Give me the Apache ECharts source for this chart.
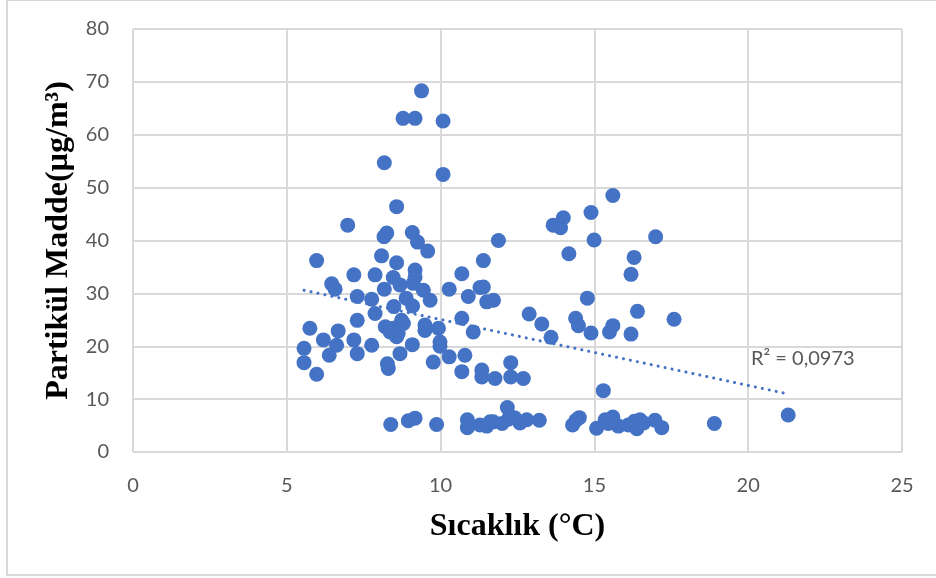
<!DOCTYPE html>
<html>
<head>
<meta charset="utf-8">
<script src="https://cdn.jsdelivr.net/npm/echarts@6/dist/echarts.min.js"></script>
<style>
  html, body { margin: 0; padding: 0; background: #fff; }
  #chart { width: 936px; height: 578px; }
</style>
</head>
<body>
<div id="chart"></div>
<script>
// sicaklik (x) ve partikul madde (y) - olcum ciftleri
var sicaklik = [
    9.38, 8.78, 9.17, 10.08, 8.17, 10.08, 8.57, 6.98, 8.25, 8.16,
    9.08, 9.25, 9.58, 5.97, 8.08, 8.57, 9.17, 7.18, 7.87, 8.46,
    9.17, 6.46, 6.57, 8.68, 9.11, 9.44, 8.17, 7.29, 7.76, 9.66,
    8.88, 9.09, 8.48, 7.87, 7.29, 8.73, 8.46, 8.20, 8.62, 9.49,
    9.49, 9.93, 5.75, 6.19, 6.67, 7.18, 6.62, 7.76, 9.08, 9.98,
    9.98, 5.56, 6.38, 7.29, 8.68, 10.28, 10.79, 5.56, 8.27, 8.30,
    9.76, 10.69, 5.97, 11.34, 11.34, 11.77, 10.69, 10.69, 10.28, 10.90,
    11.28, 11.39, 11.50, 11.72, 11.88, 11.06, 8.36, 8.57, 8.79, 8.38,
    8.95, 9.17, 9.87, 10.87, 10.87, 11.50, 11.71, 15.60, 14.89, 13.99,
    13.66, 13.90, 14.99, 16.99, 14.17, 16.29, 16.19, 11.39, 14.77, 12.88,
    13.29, 13.59, 14.39, 14.48, 14.89, 15.60, 15.49, 16.40, 16.19, 17.59,
    12.28, 12.28, 12.69, 15.29, 12.17, 11.61, 12.00, 12.58, 12.80, 13.21,
    14.29, 14.51, 15.07, 15.35, 15.60, 15.78, 16.10, 16.38, 16.48, 16.97,
    17.19, 11.28, 18.90, 21.30, 12.40, 14.40, 15.45, 16.30, 16.60, 12.20
];
var partikul = [
    68.3, 63.1, 63.1, 62.6, 54.7, 52.5, 46.4, 42.9, 41.4, 40.7,
    41.5, 39.7, 38.0, 36.2, 37.1, 35.8, 34.4, 33.5, 33.5, 33.0,
    33.1, 31.8, 30.8, 31.6, 31.9, 30.6, 30.8, 29.4, 28.9, 28.7,
    29.1, 27.6, 27.5, 26.2, 24.9, 24.9, 23.4, 23.7, 22.4, 24.0,
    23.0, 23.4, 23.4, 21.2, 22.9, 21.2, 20.2, 20.2, 20.3, 20.8,
    20.0, 19.6, 18.3, 18.6, 18.6, 18.0, 18.3, 16.9, 16.7, 15.8,
    17.0, 15.2, 14.7, 15.5, 14.2, 13.9, 25.3, 33.7, 30.8, 29.4,
    31.1, 36.2, 28.4, 28.7, 40.0, 22.7, 22.7, 21.8, 24.3, 5.2,
    5.9, 6.4, 5.2, 6.1, 4.6, 4.9, 5.7, 48.5, 45.3, 44.3,
    42.9, 42.4, 40.1, 40.7, 37.5, 36.8, 33.6, 31.2, 29.1, 26.1,
    24.2, 21.7, 25.3, 23.9, 22.5, 23.9, 22.7, 26.6, 22.3, 25.1,
    16.9, 14.2, 13.9, 11.6, 8.4, 5.7, 5.4, 5.5, 6.1, 6.0,
    5.1, 6.5, 4.5, 6.1, 6.6, 4.9, 5.1, 4.4, 6.1, 6.0,
    4.6, 5.1, 5.4, 7.0, 6.5, 6.0, 5.4, 5.8, 5.5, 6.2
];
var xTicks = [0, 5, 10, 15, 20, 25];
var yTicks = [0, 10, 20, 30, 40, 50, 60, 70, 80];
var r2Label = 'R² = 0,0973';

var myChart = echarts.init(document.getElementById('chart'));

var points = sicaklik.map(function (t, i) { return [t, partikul[i]]; });

// dogrusal trend (en kucuk kareler)
var n = points.length, sx = 0, sy = 0, sxx = 0, sxy = 0;
points.forEach(function (p) {
    sx += p[0]; sy += p[1]; sxx += p[0] * p[0]; sxy += p[0] * p[1];
});
var egim = (n * sxy - sx * sy) / (n * sxx - sx * sx);
var kesim = (sy - egim * sx) / n;
var xMin = Math.min.apply(null, sicaklik), xMax = Math.max.apply(null, sicaklik);
var trend = [[xMin, kesim + egim * xMin], [xMax, kesim + egim * xMax]];

var tickFont = { color: '#595959', fontSize: 20, fontFamily: 'Lato' };
var titleFont = { color: '#000', fontSize: 32, fontWeight: 'bold', fontFamily: 'Liberation Serif' };

var option = {
    animation: false,
    backgroundColor: '#fff',
    graphic: [
        {
            type: 'rect',
            shape: { x: 7, y: 0, width: 940, height: 575 },
            style: { fill: 'none', stroke: '#d9d9d9', lineWidth: 2 },
            silent: true
        },
        {
            type: 'text',
            left: 751,
            top: 349,
            style: { text: r2Label, fill: '#595959', font: '20px Lato' }
        }
    ],
    grid: { left: 133, right: 34, top: 29, bottom: 126 },
    xAxis: {
        type: 'value',
        min: xTicks[0],
        max: xTicks[xTicks.length - 1],
        interval: 5,
        name: 'Sıcaklık (°C)',
        nameLocation: 'middle',
        nameGap: 59,
        nameTextStyle: titleFont,
        axisLine: { show: false },
        axisTick: { show: false },
        axisLabel: Object.assign({ margin: 24 }, tickFont),
        splitLine: { lineStyle: { color: '#d9d9d9', width: 2 } }
    },
    yAxis: {
        type: 'value',
        min: yTicks[0],
        max: yTicks[yTicks.length - 1],
        interval: 10,
        name: 'Partikül Madde(µg/m³)',
        nameLocation: 'middle',
        nameRotate: 90,
        nameGap: 51,
        nameTextStyle: titleFont,
        axisLine: { show: false },
        axisTick: { show: false },
        axisLabel: Object.assign({ margin: 24 }, tickFont),
        splitLine: { lineStyle: { color: '#d9d9d9', width: 2 } }
    },
    series: [
        {
            type: 'scatter',
            data: points,
            symbolSize: 15,
            itemStyle: { color: '#4472C4', opacity: 1 },
            z: 3
        },
        {
            type: 'line',
            data: trend,
            symbol: 'none',
            lineStyle: { color: '#4472C4', width: 3, type: [0.1, 7], cap: 'round' },
            z: 4
        }
    ]
};
myChart.setOption(option);
</script>
</body>
</html>
